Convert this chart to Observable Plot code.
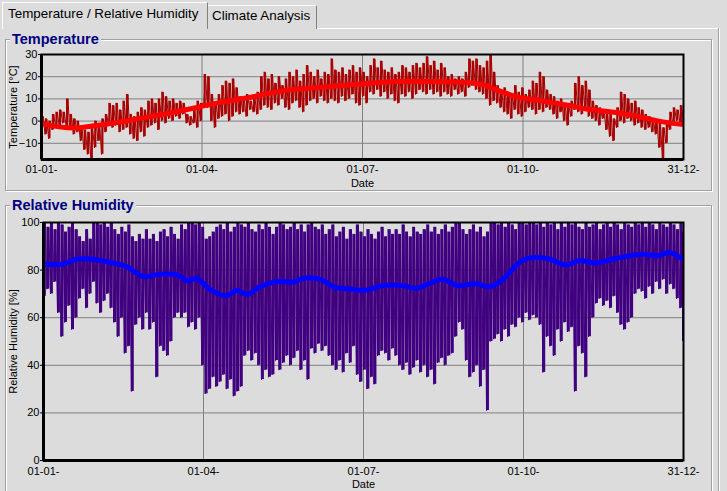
<!DOCTYPE html>
<html><head><meta charset="utf-8">
<script src="https://cdn.jsdelivr.net/npm/d3@7"></script>
<script src="https://cdn.jsdelivr.net/npm/@observablehq/plot@0.6"></script>
<style>
html,body{margin:0;padding:0;background:#dcdcdc;}
#root{position:relative;width:727px;height:491px;overflow:hidden;background:#dcdcdc;font-family:"Liberation Sans",Arial,sans-serif;}
.tab{position:absolute;box-sizing:border-box;border-left:1px solid #fff;border-top:1px solid #fff;border-right:1px solid #808080;background:#dcdcdc;}
.tabt{position:absolute;font-size:13.4px;line-height:16px;color:#000;white-space:nowrap;}
.gb{position:absolute;box-sizing:border-box;border:1px solid #a0a0a0;box-shadow:inset 1px 1px 0 #fff, 1px 1px 0 #fff;}
.gbt{position:absolute;font-size:14.5px;line-height:16px;font-weight:bold;color:#000080;background:#dcdcdc;padding:0 2px;white-space:nowrap;}
.ln{position:absolute;}
</style></head>
<body>
<div id="root">
  <div class="ln" style="left:207px;top:28px;width:513px;height:1px;background:#fff"></div>
  <div class="ln" style="left:718px;top:28px;width:1px;height:463px;background:#a0a0a0"></div>
  <div class="ln" style="left:719px;top:28px;width:1px;height:463px;background:#fff"></div>
  <div class="tab" style="left:207px;top:5px;width:110px;height:24px;"></div>
  <div class="tabt" style="left:212px;top:8px;">Climate Analysis</div>
  <div class="tab" style="left:2px;top:2px;width:206px;height:27px;"></div>
  <div class="tabt" style="left:8px;top:6px;">Temperature / Relative Humidity</div>
  <div class="gb" style="left:5px;top:39px;width:707px;height:152px;"></div>
  <div class="gbt" style="left:10px;top:31px;">Temperature</div>
  <div class="gb" style="left:5px;top:205px;width:707px;height:300px;"></div>
  <div class="gbt" style="left:10px;top:197px;">Relative Humidity</div>
</div>
<script>
// ---- x axis ticks (day of year) ----
const tickDays = [0, 91, 182, 273, 364];
const tickLabels = ["01-01-", "01-04-", "01-07-", "01-10-", "31-12-"];

// ---- Temperature: 2-day bins (low / high), day = 2*i ----
const tempLo = [
  -3,-6,-8,-4,-3,-2,-1,-3,-4,-6,
  -5,-9,-13,-15,-17,-12,-9,-15,-5,-2,
  -3,-2,-5,-4,-3,-6,-8,-9,-5,-7,
  -3,-2,-1,-4,0,-1,1,0,2,1,
  3,-1,-2,-1,-3,0,7,6,0,-3,
  1,2,3,0,2,4,3,4,2,5,
  4,3,5,7,6,5,8,7,10,6,
  5,8,9,6,4,7,9,10,8,11,
  9,8,10,9,8,11,9,10,12,8,
  7,11,8,13,12,14,11,13,10,12,
  9,8,12,11,13,10,12,14,13,12,
  14,12,13,11,13,12,11,14,12,13,
  11,15,16,14,13,12,10,7,9,8,
  6,4,3,1,5,3,2,4,6,5,
  3,5,4,6,5,3,1,4,0,-2,
  2,5,4,3,6,2,1,0,-2,1,
  -4,-7,-9,-3,0,-1,1,0,-2,-1,
  -3,-4,-3,-5,-6,-12,-17,-10,-4,-2,0,-1,-2
];
const tempHi = [
  2,1,0,3,4,5,4,10,3,1,
  0,-3,-4,-5,-3,0,-1,1,3,8,
  7,8,5,9,12,3,2,4,6,5,
  9,10,8,10,13,11,9,10,8,9,
  8,3,2,5,9,8,21,20,12,8,
  12,16,18,17,19,15,11,10,12,9,
  11,13,20,22,19,21,17,20,16,19,
  22,20,23,18,21,25,22,20,23,19,
  22,21,28,23,22,24,21,23,25,22,
  24,22,20,25,28,24,27,23,22,24,
  21,22,25,24,22,25,26,24,26,29,
  25,27,23,26,24,20,21,19,20,19,
  22,28,27,28,25,24,27,30,22,16,
  14,15,13,12,16,13,15,12,14,18,
  17,22,20,14,12,11,9,10,8,7,
  9,17,20,16,18,14,9,7,6,5,
  4,3,1,6,13,12,10,8,9,6,
  5,3,2,1,0,-1,-3,0,4,6,5,7,3
];
// smoothed temperature
const tempSmoothDay = [0,10,20,30,40,50,60,70,80,90,100,110,120,130,140,150,160,170,180,190,200,210,220,230,240,250,260,270,280,290,300,310,320,330,340,350,364];
const tempSmoothVal = [-1,-2.6,-3.1,-2.1,-1,0.4,1.8,3.2,4.8,6.5,8.2,9.6,11,12.7,14,14.7,15.3,16,16.6,17.3,17.8,17.9,17.8,17.6,17.4,16.4,13.5,10.8,9.6,8.2,6.9,5.3,4.4,3.3,1.8,0,-1.6];
const tempTicks = [-10, 0, 10, 20, 30];

// ---- Relative humidity: 2-day bins (low / high) ----
const rhLo = [
  69,72,70,75,62,52,58,65,55,60,
  68,72,64,70,75,66,62,67,70,64,
  58,52,60,45,48,29,57,60,55,62,
  55,58,35,48,46,44,50,60,62,60,
  62,56,58,55,60,40,28,30,35,31,
  33,36,30,34,27,29,31,44,46,42,
  45,40,34,38,35,36,42,38,41,44,
  40,43,46,38,42,34,47,45,49,46,
  48,44,40,38,42,37,45,41,48,36,
  33,38,30,35,32,44,46,45,42,47,
  44,40,38,41,36,39,42,37,40,35,
  38,32,41,43,40,44,45,52,58,55,
  42,35,37,40,31,38,21,50,51,53,
  50,55,52,57,56,60,58,62,59,61,
  60,57,37,52,48,44,55,50,58,54,
  56,29,48,45,35,52,60,66,68,65,
  67,64,69,62,57,55,58,60,70,72,
  71,68,73,70,75,72,76,70,74,72,68,64,50
];
const rhHi = [
  100,98,100,97,100,99,96,98,100,97,
  94,92,97,93,100,100,99,100,98,100,
  97,95,98,96,99,94,92,95,93,97,
  93,95,92,96,97,94,98,95,93,99,
  97,100,100,99,100,98,93,94,96,98,
  99,97,100,96,98,100,99,98,100,97,
  96,99,97,100,98,95,98,100,99,97,
  98,100,97,99,96,99,100,98,97,99,
  95,97,99,94,96,98,93,97,95,99,
  96,94,97,95,93,96,98,94,97,95,
  97,95,99,96,94,98,96,95,97,99,
  96,98,95,97,99,96,98,100,100,97,
  95,97,99,96,98,94,96,100,100,99,
  100,98,100,99,97,100,100,99,100,100,
  99,100,98,100,99,100,97,100,98,100,
  99,100,98,97,100,98,99,100,97,99,
  100,98,100,99,97,100,99,98,100,99,
  100,98,100,99,97,100,99,98,100,99,97,100,96
];
const rhSmoothDay = [0,11,19,28,38,47,57,66,76,82,87,95,104,110,116,123,133,142,148,158,165,175,183,193,204,212,227,235,246,254,261,273,286,297,305,314,326,341,349,356,364];
const rhSmoothVal = [82.5,82.6,84.6,84.6,83.2,81.5,77.3,78.3,78,75.5,76.6,71.7,69.2,71.5,69.7,73,75.2,75,76.6,76,73,72,71.5,73.5,73.5,72.4,76.2,73.5,74.3,73,76,84.3,85,82.2,84,83,85,86.7,86,87.4,84.3];
const rhTicks = [0, 20, 40, 60, 80, 100];

// ---- build tables ----
function zigzag(lo, hi) {
  const out = [];
  lo.forEach((l, i) => {
    out.push({d: 2 * i, v: l});
    out.push({d: Math.min(2 * i + 1, 364), v: hi[i]});
  });
  return out;
}
function bins(lo, hi) {
  return lo.map((l, i) => ({d: Math.min(2 * i + 0.5, 364), lo: l, hi: hi[i]}));
}
const tempLine = zigzag(tempLo, tempHi);
const tempBins = bins(tempLo, tempHi);
const tempSmooth = tempSmoothDay.map((d, i) => ({d, v: tempSmoothVal[i]}));
const rhLine = zigzag(rhLo, rhHi);
const rhBins = bins(rhLo, rhHi);
const rhSmooth = rhSmoothDay.map((d, i) => ({d, v: rhSmoothVal[i]}));

const font = "'Liberation Sans', Arial, sans-serif";
const fmtX = d => tickLabels[tickDays.indexOf(d)];

function panel({height, mt, mb, ml, mr, yDomain, yTicks, raw, rawBins, smooth, rawColor, smoothColor, yLabel, labelDx, xPad, binWidth}) {
  return Plot.plot({
    width: 727, height,
    marginTop: mt, marginBottom: mb, marginLeft: ml, marginRight: mr,
    style: {background: "transparent", fontFamily: font, fontSize: "11px", color: "#000", overflow: "visible"},
    x: {domain: [0, 364]},
    y: {domain: yDomain},
    marks: [
      Plot.gridY(yTicks, {stroke: "#808080", strokeOpacity: 1}),
      Plot.gridX(tickDays.slice(1, -1), {stroke: "#808080", strokeOpacity: 1}),
      Plot.ruleX(rawBins, {x: "d", y1: "lo", y2: "hi", stroke: rawColor, strokeWidth: binWidth, clip: true}),
      Plot.line(raw, {x: "d", y: "v", stroke: rawColor, strokeWidth: 1, clip: true}),
      Plot.line(smooth, {x: "d", y: "v", stroke: smoothColor, strokeWidth: 5, curve: "catmull-rom", clip: true}),
      Plot.frame({stroke: "#000", strokeWidth: 2}),
      Plot.ruleY([yDomain[0]], {stroke: "#000", strokeWidth: 3}),
      Plot.ruleX([0], {stroke: "#000", strokeWidth: 3}),
      Plot.axisY(yTicks, {tickSize: 3, tickPadding: 1, label: null, fontSize: 11}),
      Plot.axisX(tickDays, {tickFormat: fmtX, tickSize: 0, tickPadding: xPad, label: null, fontSize: 11}),
      Plot.text(["Date"], {text: d => d, frameAnchor: "bottom", lineAnchor: "middle", dy: 24, fontSize: 11}),
      Plot.text([yLabel], {text: d => d, frameAnchor: "left", textAnchor: "middle", lineAnchor: "middle", rotate: -90, dx: labelDx, fontSize: 11})
    ]
  });
}

const root = document.getElementById("root");
const t = panel({height: 148, mt: 10, mb: 33, ml: 41, mr: 44, yDomain: [-17.3, 30], yTicks: tempTicks,
  raw: tempLine, rawBins: tempBins, smooth: tempSmooth, rawColor: "#a80000", smoothColor: "#ff0000",
  yLabel: "Temperature [°C]", labelDx: -28.5, xPad: 6, binWidth: 2.2});
t.style.position = "absolute"; t.style.left = "0px"; t.style.top = "44px";
root.appendChild(t);

const h = panel({height: 279, mt: 10, mb: 31, ml: 43, mr: 44, yDomain: [0, 100], yTicks: rhTicks,
  raw: rhLine, rawBins: rhBins, smooth: rhSmooth, rawColor: "#400080", smoothColor: "#0000ff",
  yLabel: "Relative Humidity [%]", labelDx: -30, xPad: 7, binWidth: 3});
h.style.position = "absolute"; h.style.left = "0px"; h.style.top = "212px";
root.appendChild(h);
</script>
</body></html>
